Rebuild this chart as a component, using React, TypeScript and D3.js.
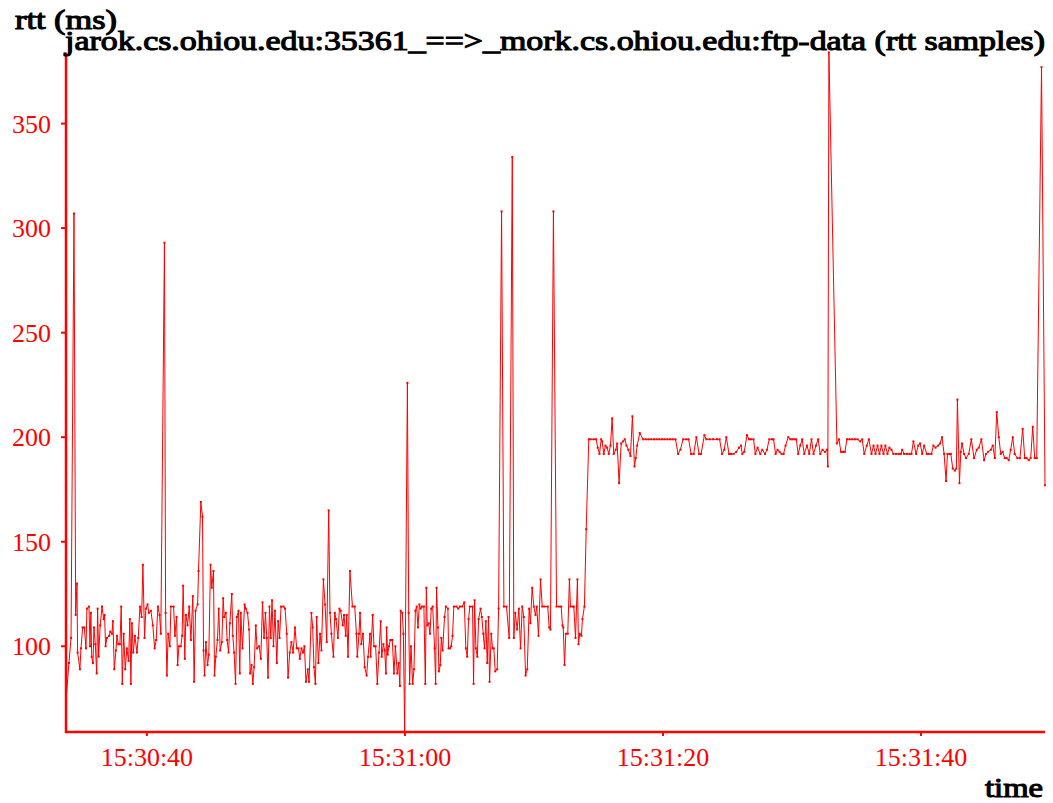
import React from "react";
import * as d3 from "d3";

// RTT samples: seconds after 15:30:00 and measured round-trip time in ms
const sampleTimes: number[] = [
  33.73, 33.96, 34.12, 34.35, 34.48, 34.58, 34.63, 34.81, 34.89, 35.02,
  35.15, 35.28, 35.35, 35.51, 35.59, 35.66, 35.72, 35.82, 35.90, 36.00,
  36.11, 36.18, 36.26, 36.38, 36.52, 36.65, 36.72, 36.80, 36.90, 37.08,
  37.16, 37.29, 37.37, 37.47, 37.60, 37.68, 37.78, 37.91, 38.01, 38.09,
  38.20, 38.32, 38.45, 38.58, 38.68, 38.76, 38.84, 38.94, 39.07, 39.23,
  39.33, 39.46, 39.59, 39.69, 39.82, 39.92, 40.05, 40.15, 40.31, 40.46,
  40.60, 40.72, 40.85, 40.98, 41.08, 41.36, 41.45, 41.55, 41.65, 41.78,
  41.86, 42.07, 42.17, 42.30, 42.38, 42.48, 42.63, 42.73, 42.81, 42.94,
  43.02, 43.15, 43.28, 43.41, 43.56, 43.66, 43.77, 43.93, 44.00, 44.18,
  44.31, 44.39, 44.47, 44.57, 44.70, 44.80, 44.93, 45.03, 45.16, 45.24,
  45.34, 45.47, 45.57, 45.68, 45.81, 45.91, 45.99, 46.12, 46.22, 46.33,
  46.43, 46.58, 46.66, 46.76, 46.87, 46.97, 47.10, 47.20, 47.28, 47.41,
  47.57, 47.67, 47.80, 47.92, 48.00, 48.11, 48.21, 48.31, 48.44, 48.54,
  48.70, 48.83, 48.96, 49.08, 49.19, 49.29, 49.39, 49.50, 49.60, 49.70,
  49.81, 49.93, 50.07, 50.17, 50.28, 50.40, 50.59, 50.71, 50.84, 50.94,
  51.07, 51.20, 51.33, 51.48, 51.61, 51.75, 51.85, 51.98, 52.10, 52.21,
  52.33, 52.47, 52.57, 52.75, 52.85, 52.95, 53.06, 53.16, 53.29, 53.42,
  53.53, 53.68, 53.81, 53.94, 54.09, 54.19, 54.30, 54.46, 54.56, 54.66,
  54.81, 54.92, 55.02, 55.18, 55.28, 55.41, 55.49, 55.59, 55.74, 55.93,
  56.11, 56.24, 56.31, 56.44, 56.52, 56.62, 56.75, 56.88, 57.03, 57.14,
  57.29, 57.34, 57.50, 57.60, 57.73, 57.86, 57.99, 58.12, 58.20, 58.33,
  58.43, 58.53, 58.58, 58.66, 58.76, 58.87, 59.02, 59.15, 59.26, 59.41,
  59.51, 59.61, 59.67, 59.80, 59.88, 59.98, 60.19, 60.29, 60.36, 60.47,
  60.60, 60.70, 60.81, 60.91, 61.01, 61.12, 61.22, 61.32, 61.47, 61.58,
  61.66, 61.73, 61.84, 61.94, 62.04, 62.15, 62.30, 62.38, 62.45, 62.56,
  62.63, 62.74, 62.82, 62.92, 63.07, 63.17, 63.33, 63.38, 63.49, 63.59,
  63.69, 63.79, 64.00, 64.13, 64.26, 64.44, 64.60, 64.72, 64.83, 64.93,
  65.03, 65.24, 65.32, 65.40, 65.50, 65.61, 65.71, 65.86, 65.96, 66.07,
  66.17, 66.27, 66.38, 66.48, 66.56, 66.69, 66.79, 66.89, 67.00, 67.15,
  67.26, 67.49, 67.67, 67.87, 68.08, 68.32, 68.44, 68.55, 68.70, 68.83,
  68.96, 69.09, 69.21, 69.35, 69.48, 69.63, 69.73, 69.86, 69.99, 70.12,
  70.22, 70.35, 70.51, 70.64, 70.82, 71.07, 71.18, 71.28, 71.51, 71.75,
  71.96, 72.11, 72.21, 72.27, 72.37, 72.47, 72.62, 72.75, 72.83, 73.01,
  73.09, 73.22, 73.37, 73.45, 73.55, 73.68, 73.76, 73.91, 74.05, 74.25,
  74.38, 74.63, 74.82, 74.94, 75.08, 75.21, 75.29, 75.41, 75.54, 75.67,
  75.80, 75.93, 76.06, 76.18, 76.34, 76.45, 76.60, 76.76, 76.91, 77.04,
  77.17, 77.32, 77.48, 77.63, 77.79, 77.89, 78.00, 78.20, 78.46, 78.67,
  78.88, 79.09, 79.30, 79.51, 79.71, 79.92, 80.13, 80.34, 80.55, 80.76,
  80.97, 81.17, 81.35, 81.56, 81.81, 81.99, 82.18, 82.38, 82.59, 82.80,
  82.95, 83.21, 83.36, 83.62, 83.88, 84.19, 84.39, 84.58, 84.75, 84.91,
  85.12, 85.27, 85.47, 85.68, 85.89, 86.05, 86.15, 86.30, 86.51, 86.67,
  86.82, 87.02, 87.16, 87.33, 87.54, 87.70, 87.91, 88.06, 88.24, 88.45,
  88.57, 88.73, 88.88, 89.04, 89.19, 89.35, 89.50, 89.71, 89.87, 90.02,
  90.18, 90.33, 90.48, 90.64, 90.79, 90.95, 91.16, 91.34, 91.51, 91.67,
  91.86, 92.03, 92.19, 92.37, 92.55, 92.71, 92.78, 92.86, 93.48, 93.64,
  93.79, 93.95, 94.10, 94.26, 94.46, 94.67, 94.88, 95.08, 95.29, 95.44,
  95.60, 95.80, 95.96, 96.16, 96.32, 96.47, 96.63, 96.78, 96.93, 97.09,
  97.24, 97.40, 97.55, 97.71, 97.86, 98.07, 98.28, 98.44, 98.54, 98.69,
  98.90, 99.10, 99.26, 99.41, 99.62, 99.78, 99.93, 100.09, 100.24, 100.45,
  100.60, 100.81, 100.96, 101.12, 101.33, 101.48, 101.63, 101.79, 101.94, 102.05,
  102.20, 102.31, 102.46, 102.62, 102.74, 102.82, 102.98, 103.08, 103.18, 103.34,
  103.49, 103.70, 103.90, 104.11, 104.32, 104.48, 104.68, 104.89, 105.04, 105.20,
  105.41, 105.56, 105.72, 105.87, 106.03, 106.18, 106.33, 106.49, 106.64, 106.80,
  106.95, 107.11, 107.26, 107.47, 107.67, 107.88, 108.04, 108.19, 108.35, 108.50,
  108.66, 108.81, 108.97, 109.34, 109.61,
];

const rttMs: number[] = [
  74, 92, 104, 307, 115, 130, 97, 89, 99, 109,
  109, 99, 118, 119, 100, 116, 95, 92, 109, 101,
  87, 118, 95, 110, 119, 113, 115, 100, 104, 105,
  107, 106, 112, 89, 98, 105, 101, 101, 119, 82,
  106, 89, 99, 93, 113, 82, 111, 97, 105, 97,
  104, 119, 114, 139, 104, 118, 120, 116, 117, 110,
  99, 103, 119, 115, 106, 293, 116, 86, 106, 100,
  119, 119, 105, 114, 91, 100, 100, 105, 129, 94,
  115, 110, 119, 103, 124, 83, 117, 120, 136, 169,
  162, 98, 86, 102, 91, 96, 139, 128, 136, 86,
  95, 103, 118, 98, 102, 123, 114, 116, 103, 97,
  111, 125, 105, 97, 82, 114, 117, 87, 116, 99,
  120, 118, 116, 108, 87, 91, 82, 90, 110, 99,
  100, 94, 121, 104, 116, 104, 85, 119, 104, 122,
  100, 117, 92, 112, 104, 119, 119, 118, 106, 85,
  97, 102, 97, 109, 99, 99, 94, 99, 97, 100,
  83, 89, 83, 116, 109, 90, 82, 114, 92, 106,
  98, 132, 120, 102, 165, 116, 106, 95, 116, 113,
  104, 118, 117, 110, 115, 105, 115, 95, 136, 119,
  119, 106, 95, 106, 116, 101, 106, 90, 86, 95,
  106, 95, 115, 100, 100, 82, 97, 112, 95, 101,
  98, 87, 109, 96, 100, 103, 103, 87, 100, 87,
  92, 81, 117, 116, 106, 59, 226, 116, 82, 100,
  82, 89, 117, 119, 109, 120, 118, 119, 119, 82,
  128, 110, 111, 106, 118, 119, 99, 82, 128, 109,
  88, 91, 104, 98, 114, 119, 118, 99, 99, 100,
  105, 119, 119, 118, 119, 119, 121, 99, 95, 113,
  119, 119, 82, 122, 99, 95, 113, 118, 114, 106,
  99, 112, 92, 114, 83, 106, 99, 99, 88, 89,
  118, 308, 119, 119, 104, 334, 104, 116, 108, 118,
  99, 119, 114, 86, 89, 118, 111, 128, 119, 115,
  119, 105, 132, 119, 119, 119, 109, 108, 308, 119,
  119, 119, 110, 109, 91, 106, 106, 132, 119, 119,
  119, 104, 132, 101, 106, 105, 113, 119, 156, 199,
  199, 199, 199, 195, 192, 199, 198, 192, 196, 195,
  192, 196, 209, 192, 194, 197, 178, 197, 198, 199,
  196, 194, 191, 210, 186, 190, 196, 202, 199, 199,
  199, 199, 199, 199, 199, 199, 199, 199, 199, 199,
  199, 192, 194, 199, 199, 199, 192, 192, 200, 192,
  192, 201, 199, 199, 199, 199, 199, 192, 194, 200,
  192, 192, 192, 193, 195, 196, 192, 193, 201, 199,
  199, 199, 192, 195, 192, 194, 192, 194, 199, 199,
  199, 192, 194, 193, 192, 192, 196, 200, 199, 199,
  199, 199, 192, 196, 199, 192, 196, 192, 199, 192,
  196, 199, 192, 194, 193, 194, 186, 384, 197, 199,
  193, 193, 193, 199, 199, 199, 199, 199, 198, 199,
  192, 196, 199, 192, 196, 192, 196, 192, 196, 192,
  196, 192, 195, 194, 192, 192, 192, 192, 194, 192,
  192, 192, 192, 198, 192, 196, 197, 192, 196, 192,
  192, 192, 196, 195, 196, 197, 200, 192, 179, 192,
  192, 192, 185, 184, 185, 218, 178, 193, 197, 192,
  190, 192, 199, 190, 194, 195, 199, 189, 192, 193,
  194, 196, 190, 212, 200, 192, 193, 190, 190, 189,
  194, 200, 192, 190, 190, 204, 190, 190, 189, 190,
  205, 190, 190, 377, 177,
];

const yTicks: number[] = [100, 150, 200, 250, 300, 350];
const xTickSeconds: number[] = [40, 60, 80, 100];
const xTickLabels: string[] = ["15:30:40", "15:31:00", "15:31:20", "15:31:40"];

const titleText = "jarok.cs.ohiou.edu:35361_==>_mork.cs.ohiou.edu:ftp-data (rtt samples)";
const yLabel = "rtt (ms)";
const xLabel = "time";

const W = 1053;
const H = 803;
const plot = { left: 66, right: 1045, top: 52.5, bottom: 732 };
const RED = "#ff0000";
const SERIF = "'Liberation Serif', 'Times New Roman', serif";

// heavy serif captions: regular Times-like face thickened with an outline
const captionProps = {
  fontFamily: SERIF,
  fontSize: 28,
  fill: "#000",
  stroke: "#000",
  strokeWidth: 1.1,
  lengthAdjust: "spacingAndGlyphs" as const,
};

export default function App() {
  const points = sampleTimes.map((t, i) => ({ t, v: rttMs[i] }));

  const x = d3
    .scaleLinear()
    .domain(d3.extent(sampleTimes) as [number, number])
    .range([plot.left, plot.right]);
  const y = d3
    .scaleLinear()
    .domain(d3.extent(rttMs) as [number, number])
    .range([plot.bottom, plot.top]);

  const line = d3
    .line<{ t: number; v: number }>()
    .x((d) => x(d.t))
    .y((d) => y(d.v));

  return (
    <svg
      width={W}
      height={H}
      viewBox={`0 0 ${W} ${H}`}
      style={{ position: "absolute", left: 0, top: 0, background: "#fff" }}
    >
      {/* axes */}
      <line x1={plot.left} x2={plot.left} y1={plot.top} y2={plot.bottom + 1} stroke={RED} strokeWidth={2.5} />
      <line x1={plot.left - 1} x2={plot.right} y1={plot.bottom} y2={plot.bottom} stroke={RED} strokeWidth={2.5} />

      {/* y ticks */}
      {yTicks.map((v) => (
        <g key={v}>
          <line x1={plot.left - 5} x2={plot.left} y1={y(v)} y2={y(v)} stroke={RED} strokeWidth={2} />
          <text
            x={51}
            y={y(v)}
            dy="0.35em"
            textAnchor="end"
            fill={RED}
            fontFamily={SERIF}
            fontSize={26}
          >
            {v}
          </text>
        </g>
      ))}

      {/* x ticks */}
      {xTickSeconds.map((s, i) => (
        <g key={s}>
          <line x1={x(s)} x2={x(s)} y1={plot.bottom} y2={plot.bottom + 4} stroke={RED} strokeWidth={2} />
          <text x={x(s)} y={766} textAnchor="middle" fill={RED} fontFamily={SERIF} fontSize={26}>
            {xTickLabels[i]}
          </text>
        </g>
      ))}

      {/* rtt series */}
      <path d={line(points) ?? ""} fill="none" stroke={RED} strokeWidth={1} strokeLinejoin="miter" />
      {points.map((d, i) => (
        <rect key={i} x={x(d.t) - 1} y={y(d.v) - 1} width={2} height={2} fill={RED} />
      ))}

      {/* captions */}
      <text x={65} y={50} textLength={980} {...captionProps}>
        {titleText}
      </text>
      <text x={15} y={29} textLength={102} {...captionProps}>
        {yLabel}
      </text>
      <text x={985} y={797} textLength={58} {...captionProps}>
        {xLabel}
      </text>
    </svg>
  );
}
